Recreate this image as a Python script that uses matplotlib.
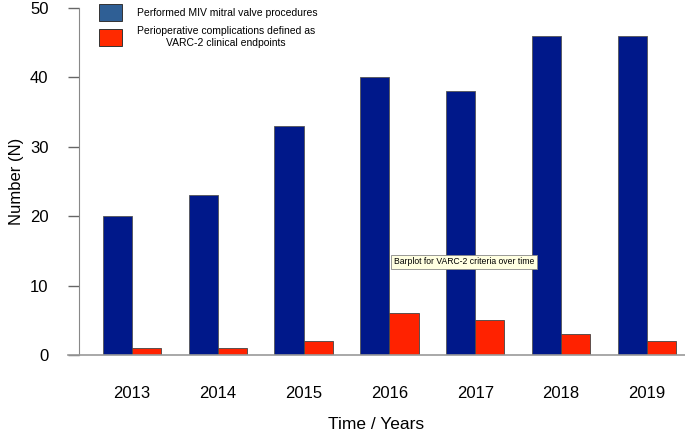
import numpy as np
import matplotlib.pyplot as plt
from matplotlib.patches import Patch

years = ['2013', '2014', '2015', '2016', '2017', '2018', '2019']
procedures = [20, 23, 33, 40, 38, 46, 46]
complications = [1, 1, 2, 6, 5, 3, 2]

plt.rcParams['font.family'] = ['Liberation Sans', 'DejaVu Sans']

fig = plt.figure(figsize=(6.85, 4.32), dpi=100)
ax = fig.add_axes([68 / 685, 77 / 432, 617 / 685, 347 / 432])

x = np.arange(len(years))
w = 0.34
ax.bar(x - w / 2, procedures, w, color='#00188a', edgecolor='#555555', linewidth=0.6)
ax.bar(x + w / 2, complications, w, color='#ff2200', edgecolor='#444444', linewidth=0.6)

ax.set_xlim(-0.746, 6.445)
ax.set_ylim(0, 50)
ax.set_yticks(np.arange(0, 51, 10))
ax.set_xticks(x)
ax.set_xticklabels(years)
ax.tick_params(axis='x', length=0, pad=22, labelsize=12)
ax.tick_params(axis='y', length=8, width=1, color='#666666', pad=14, labelsize=12)

ax.spines['top'].set_visible(False)
ax.spines['right'].set_visible(False)
ax.spines['left'].set_position(('data', -0.618))
ax.spines['left'].set_color('#888888')
ax.spines['bottom'].set_color('#999999')
ax.spines['bottom'].set_linewidth(1.2)

ax.set_xlabel('Time / Years', fontsize=12.5, labelpad=12)
ax.set_ylabel('Number (N)', fontsize=12, labelpad=4)

handles = [Patch(facecolor='#2f5f95', edgecolor='#333333', linewidth=0.7),
           Patch(facecolor='#ff2a00', edgecolor='#333333', linewidth=0.7)]
labels = ['Performed MIV mitral valve procedures',
          'Perioperative complications defined as\nVARC-2 clinical endpoints']
leg = fig.legend(handles, labels, loc='upper left', bbox_to_anchor=(93 / 685, 1.005),
                 frameon=False, fontsize=7.5, handlelength=2.2, handleheight=2.1,
                 handletextpad=1.4, labelspacing=0.5, borderpad=0.1)
for t in leg.get_texts():
    t.set_multialignment('center')

ax.text(394 / 685, (432 - 262) / 432, 'Barplot for VARC-2 criteria over time',
        transform=fig.transFigure, fontsize=6.2, va='center', ha='left',
        bbox=dict(boxstyle='square,pad=0.3', facecolor='#ffffe1', edgecolor='#888888', linewidth=0.6))

fig.savefig('out.png', dpi=100)
